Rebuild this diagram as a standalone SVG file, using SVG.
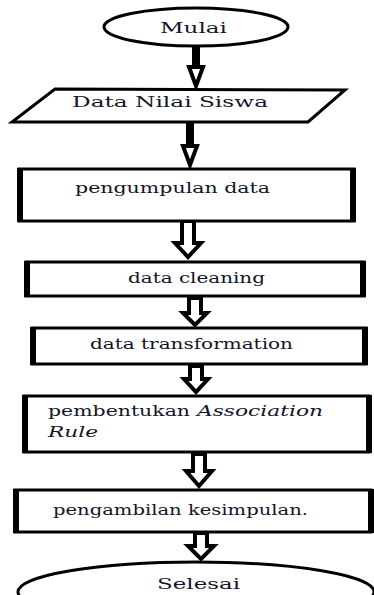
<svg xmlns="http://www.w3.org/2000/svg" width="374" height="595" viewBox="0 0 374 595">
<style>
.shape{fill:#fff;stroke:#000;stroke-width:3}
.side{stroke:#000;stroke-width:6}
.arrow{fill:#fff;stroke:#000;stroke-width:4;stroke-linejoin:miter;stroke-miterlimit:3}
.t{font-family:"DejaVu Serif","Liberation Serif",serif;font-size:15px;fill:#14142a}
.i{font-style:italic}
</style>
<rect width="374" height="595" fill="#fff"/>
<g id="connectors">
<polygon class="arrow" points="194,47 198,47 198,67 203,67 196,86 189,67 194,67"/>
<polygon class="arrow" points="188,123 192,123 192,146 197,146 190,165 183,146 188,146"/>
<polygon class="arrow" points="182,221 194,221 194,243 201,243 188,257 175,243 182,243"/>
<polygon class="arrow" points="189,298 201,298 201,313 207,313 195,325 183,313 189,313"/>
<polygon class="arrow" points="190,366 202,366 202,379 208,379 196,392 184,379 190,379"/>
<polygon class="arrow" points="193,454 205,454 205,471 212,471 199,486 186,471 193,471"/>
<polygon class="arrow" points="195,533 207,533 207,546 214,546 201,559 188,546 195,546"/>
</g>
<g id="mulai">
<ellipse class="shape" cx="196" cy="27" rx="92" ry="19"/>
<text class="t" x="160" y="33" textLength="67" lengthAdjust="spacingAndGlyphs">Mulai</text>
</g>
<g id="data-nilai-siswa">
<polygon class="shape" points="55,89 345,90 308,122 12,122"/>
<text class="t" x="72" y="107" textLength="196" lengthAdjust="spacingAndGlyphs">Data Nilai Siswa</text>
</g>
<g id="pengumpulan-data">
<rect class="shape" x="19" y="169" width="335" height="52"/>
<line class="side" x1="20" y1="168" x2="20" y2="222"/>
<line class="side" x1="353" y1="168" x2="353" y2="222"/>
<text class="t" x="75" y="193" textLength="195" lengthAdjust="spacingAndGlyphs">pengumpulan data</text>
</g>
<g id="data-cleaning">
<rect class="shape" x="26" y="262" width="338" height="34"/>
<line class="side" x1="27" y1="261" x2="27" y2="297"/>
<line class="side" x1="363" y1="261" x2="363" y2="297"/>
<text class="t" x="128" y="283" textLength="137" lengthAdjust="spacingAndGlyphs">data cleaning</text>
</g>
<g id="data-transformation">
<rect class="shape" x="32" y="328" width="334" height="36"/>
<line class="side" x1="33" y1="327" x2="33" y2="365"/>
<line class="side" x1="365" y1="327" x2="365" y2="365"/>
<text class="t" x="90" y="349" textLength="203" lengthAdjust="spacingAndGlyphs">data transformation</text>
</g>
<g id="pembentukan-association-rule">
<rect class="shape" x="24" y="396" width="345" height="56"/>
<line class="side" x1="25" y1="395" x2="25" y2="453"/>
<line class="side" x1="369" y1="395" x2="369" y2="453"/>
<text class="t" x="48" y="416" textLength="142" lengthAdjust="spacingAndGlyphs">pembentukan</text>
<text class="t i" x="197" y="416" textLength="126" lengthAdjust="spacingAndGlyphs">Association</text>
<text class="t i" x="48" y="437" textLength="50" lengthAdjust="spacingAndGlyphs">Rule</text>
</g>
<g id="pengambilan-kesimpulan">
<rect class="shape" x="15" y="490" width="356" height="42"/>
<line class="side" x1="16" y1="489" x2="16" y2="533"/>
<line class="side" x1="371" y1="489" x2="371" y2="533"/>
<text class="t" x="53" y="515" textLength="255" lengthAdjust="spacingAndGlyphs">pengambilan kesimpulan.</text>
</g>
<g id="selesai">
<ellipse class="shape" cx="196" cy="592" rx="178" ry="30"/>
<text class="t" x="157" y="589" textLength="83" lengthAdjust="spacingAndGlyphs">Selesai</text>
</g>
</svg>
